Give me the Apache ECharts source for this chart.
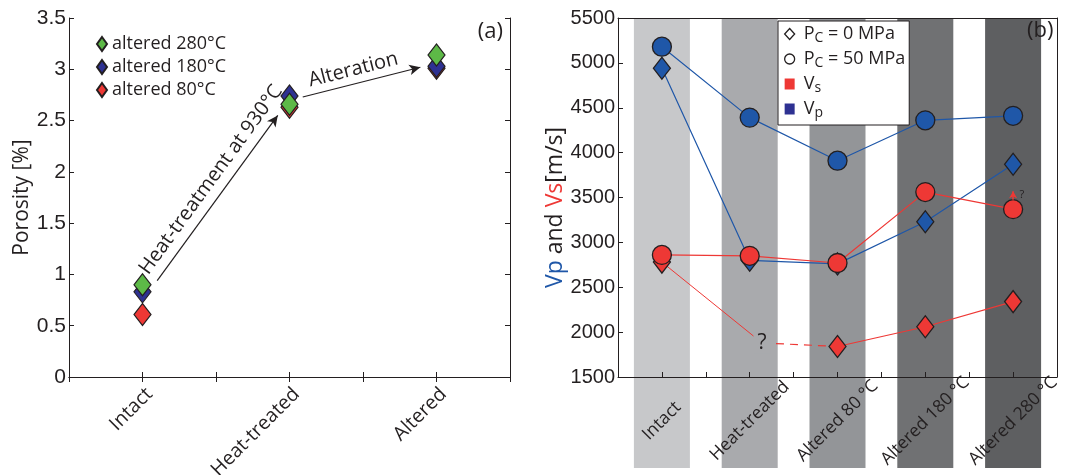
<!DOCTYPE html>
<html>
<head>
<meta charset="utf-8">
<script src="https://cdn.jsdelivr.net/npm/echarts@6/dist/echarts.min.js"></script>
<style>
html, body { margin: 0; padding: 0; background: #fff; }
#main { width: 1083px; height: 475px; }
</style>
</head>
<body>
<div id="main"></div>
<script>
// (a) porosity per stage
var stagesA = ['Intact', 'Heat-treated', 'Altered'];
var poro280 = [0.90, 2.66, 3.14];
var poro180 = [0.83, 2.74, 3.03];
var poro80 = [0.61, 2.63, 3.01];
// annotation arrows, in data units
var heatArrow = [[1.10, 0.94], [1.92, 2.55]];
var alterArrow = [[2.09, 2.73], [2.89, 3.02]];

// (b) velocities per stage
var stagesB = ['Intact', 'Heat-treated', 'Altered 80 °C', 'Altered 180 °C', 'Altered 280 °C'];
var vp50 = [5180, 4390, 3910, 4360, 4410];
var vp0 = [4940, 2800, 2760, 3230, 3870];
var vs50 = [2860, 2850, 2770, 3560, 3370];
var vs0 = [2780, null, 1840, 2060, 2340];
var vs0Guess = [2.14, 1880];           // the "?" for heat-treated Vs at 0 MPa
var vs280Arrow = [[5, 3475], [5, 3570]];
var vs280Mark = [5, 3525];

var bandColors = ['#c7c8ca', '#a9aaad', '#939598', '#707173', '#5e5f61'];
var ink = '#231f20';
var blue = '#1f57a8', red = '#ee3835', green = '#5db947', navy = '#2e3192';
var txtFont = 'Open Sans';
var numFont = 'Liberation Sans';

function xy(arr) {
    return arr.map(function (v, i) { return [i + 1, v == null ? '-' : v]; });
}

function catLabel(cats) {
    return function (v) {
        return Number.isInteger(v) ? (cats[v - 1] || '') : '';
    };
}

// frame axis helper (top / right mirrors)
function mirrorX(grid, max, ticks) {
    return {
        type: 'value', gridIndex: grid, position: 'top', min: 0.5, max: max, interval: 0.5,
        axisLine: { show: true, lineStyle: { color: ink, width: 1 } },
        axisTick: { show: ticks, inside: true, length: 5, lineStyle: { color: ink } },
        axisLabel: { show: false }, splitLine: { show: false }, z: 5
    };
}
function mirrorY(grid, min, max, step, ticks) {
    return {
        type: 'value', gridIndex: grid, position: 'right', min: min, max: max, interval: step,
        axisLine: { show: true, lineStyle: { color: ink, width: 1 } },
        axisTick: { show: ticks, inside: true, length: 5, lineStyle: { color: ink } },
        axisLabel: { show: false }, splitLine: { show: false }, z: 5
    };
}

function velLine(name, data, color, fill, symbol, size) {
    return {
        name: name, type: 'line', xAxisIndex: 2, yAxisIndex: 2,
        data: xy(data), symbol: symbol, symbolSize: size,
        connectNulls: false,
        lineStyle: { color: color, width: 1.2 },
        itemStyle: { color: fill, borderColor: ink, borderWidth: 1.3 },
        z: 3
    };
}

function poroSer(name, data, color) {
    return {
        name: name, type: 'scatter', xAxisIndex: 0, yAxisIndex: 0,
        data: xy(data), symbol: 'diamond', symbolSize: [17, 22],
        itemStyle: { color: color, borderColor: ink, borderWidth: 1.2, opacity: 1 },
        z: 3
    };
}

var arrowLabel = { show: true, color: ink, fontFamily: txtFont, fontSize: 20 };

var series = [
    // grey stage bands behind panel (b)
    {
        type: 'bar', xAxisIndex: 4, yAxisIndex: 4, barWidth: 56, z: -1, silent: true,
        data: stagesB.map(function (s, i) {
            return { value: [i + 1, 1], itemStyle: { color: bandColors[i] } };
        })
    },
    poroSer('altered 80°C', poro80, red),
    poroSer('altered 180°C', poro180, navy),
    Object.assign(poroSer('altered 280°C', poro280, green), {
        markLine: {
            silent: true, symbol: ['none', 'arrow'], symbolSize: [8, 11],
            lineStyle: { color: ink, width: 1.2, type: 'solid' },
            data: [
                [{ coord: heatArrow[0], label: Object.assign({ formatter: 'Heat-treatment at 930°C', position: 'insideMiddleTop',
                                                               distance: 6, padding: [0, 0, 0, 22] }, arrowLabel) },
                 { coord: heatArrow[1] }],
                [{ coord: alterArrow[0], label: Object.assign({ formatter: 'Alteration', position: 'insideMiddleTop',
                                                                distance: 4, padding: [0, 10, 0, 0] }, arrowLabel) },
                 { coord: alterArrow[1] }]
            ]
        }
    }),
    // dashed guess from "?" to altered 80
    {
        type: 'line', xAxisIndex: 2, yAxisIndex: 2, symbol: 'none', silent: true,
        data: [vs0Guess, [3, vs0[2]]],
        lineStyle: { color: red, width: 1.2, type: [8, 6] }, z: 3
    },
    // solid line from intact toward "?"
    {
        type: 'line', xAxisIndex: 2, yAxisIndex: 2, silent: true,
        data: [[1, vs0[0]], { value: vs0Guess, symbol: 'circle', symbolSize: 0.1,
            label: { show: true, position: 'inside', formatter: '?', color: ink, fontFamily: txtFont,
                     fontSize: 21, backgroundColor: bandColors[1], padding: [0, 4] } }],
        symbol: 'none', lineStyle: { color: red, width: 1 }, z: 3
    },
    velLine('vp0', vp0, blue, blue, 'diamond', [17, 22]),
    velLine('vs0', vs0, red, red, 'diamond', [17, 22]),
    velLine('vp50', vp50, blue, blue, 'circle', 19),
    Object.assign(velLine('vs50', vs50, red, red, 'circle', 19), {
        markLine: {
            silent: true, symbol: ['none', 'arrow'], symbolSize: [6, 7],
            lineStyle: { color: red, width: 1.5, type: 'solid' }, label: { show: false },
            data: [[{ coord: vs280Arrow[0] }, { coord: vs280Arrow[1] }]]
        },
        markPoint: {
            silent: true, symbol: 'circle', symbolSize: 1, itemStyle: { color: 'rgba(0,0,0,0)' },
            data: [{ coord: vs280Mark, label: { show: true, formatter: '?', position: 'right', distance: 6,
                     color: ink, fontFamily: txtFont, fontSize: 11 } }]
        }
    }),
    // legend-only entries for panel (b)
    { name: 'P0', type: 'line', xAxisIndex: 2, yAxisIndex: 2, data: [], itemStyle: { color: '#fff' } },
    { name: 'P50', type: 'line', xAxisIndex: 2, yAxisIndex: 2, data: [], itemStyle: { color: '#fff' } },
    { name: 'Vs', type: 'line', xAxisIndex: 2, yAxisIndex: 2, data: [], itemStyle: { color: red } },
    { name: 'Vp', type: 'line', xAxisIndex: 2, yAxisIndex: 2, data: [], itemStyle: { color: navy } }
];

var legendTextB = {
    P0: '{m|P}{s|C}{m| = 0 MPa}',
    P50: '{m|P}{s|C}{m| = 50 MPa}',
    Vs: '{m|V}{s|s}',
    Vp: '{m|V}{s|p}'
};

var plain = function (v) { return String(v); };

var option = {
    animation: false,
    backgroundColor: '#fff',
    grid: [
        { left: 69, top: 18, width: 441, height: 359, outerBoundsMode: 'none', containLabel: false },
        { left: 618, top: 18, width: 439, height: 359, outerBoundsMode: 'none', containLabel: false },
        { left: 618, top: 18, width: 439, height: 450, outerBoundsMode: 'none', containLabel: false }
    ],
    xAxis: [
        {
            type: 'value', gridIndex: 0, min: 0.5, max: 3.5, interval: 0.5,
            axisLine: { show: true, lineStyle: { color: ink, width: 1 } },
            axisTick: { show: true, inside: true, length: 5, lineStyle: { color: ink } },
            axisLabel: { formatter: catLabel(stagesA), rotate: 45, margin: 7, color: ink,
                         fontFamily: txtFont, fontSize: 19.5, verticalAlign: 'top' },
            splitLine: { show: false }, z: 5
        },
        mirrorX(0, 3.5, true),
        {
            type: 'value', gridIndex: 1, min: 0.5, max: 5.5, interval: 0.5,
            axisLine: { show: true, lineStyle: { color: ink, width: 1 } },
            axisTick: { show: true, inside: true, length: 5, lineStyle: { color: ink } },
            axisLabel: { formatter: catLabel(stagesB), rotate: 45, margin: 44, color: ink,
                         fontFamily: txtFont, fontSize: 17.5, align: 'center', verticalAlign: 'middle' },
            splitLine: { show: false }, z: 5
        },
        mirrorX(1, 5.5, false),
        { type: 'value', gridIndex: 2, min: 0.5, max: 5.5, show: false }
    ],
    yAxis: [
        {
            type: 'value', gridIndex: 0, min: 0, max: 3.5, interval: 0.5,
            name: 'Porosity [%]', nameLocation: 'middle', nameRotate: 90, nameGap: 36,
            nameTextStyle: { color: ink, fontFamily: txtFont, fontSize: 21 },
            axisLine: { show: true, lineStyle: { color: ink, width: 1 } },
            axisTick: { show: true, inside: true, length: 5, lineStyle: { color: ink } },
            axisLabel: { color: ink, fontFamily: numFont, fontSize: 21, margin: 3, formatter: plain },
            splitLine: { show: false }, z: 5
        },
        mirrorY(0, 0, 3.5, 0.5, true),
        {
            type: 'value', gridIndex: 1, min: 1500, max: 5500, interval: 500,
            name: '{b|Vp} and {r|Vs}[m/s]', nameLocation: 'middle', nameRotate: 90, nameGap: 49,
            nameTextStyle: {
                color: ink, fontFamily: txtFont, fontSize: 23, padding: [0, 20, 0, 0],
                rich: {
                    b: { color: blue, fontFamily: txtFont, fontSize: 23 },
                    r: { color: red, fontFamily: txtFont, fontSize: 23 }
                }
            },
            axisLine: { show: true, lineStyle: { color: ink, width: 1 } },
            axisTick: { show: true, inside: true, length: 5, lineStyle: { color: ink } },
            axisLabel: { color: ink, fontFamily: numFont, fontSize: 20, margin: 3, formatter: plain },
            splitLine: { show: false }, z: 5
        },
        mirrorY(1, 1500, 5500, 500, false),
        { type: 'value', gridIndex: 2, min: 0, max: 1, show: false }
    ],
    legend: [
        {
            data: ['altered 280°C', 'altered 180°C', 'altered 80°C'],
            orient: 'vertical', left: 91, top: 30, itemWidth: 10, itemHeight: 14, itemGap: 5,
            selectedMode: false,
            textStyle: { color: ink, fontFamily: txtFont, fontSize: 18, padding: [0, 0, 0, 0] }
        },
        {
            data: [
                { name: 'P0', icon: 'diamond', itemStyle: { color: '#fff', borderColor: ink, borderWidth: 1.3 } },
                { name: 'P50', icon: 'circle', itemStyle: { color: '#fff', borderColor: ink, borderWidth: 1.3 } },
                { name: 'Vs', icon: 'rect', itemStyle: { color: red, borderWidth: 0 } },
                { name: 'Vp', icon: 'rect', itemStyle: { color: navy, borderWidth: 0 } }
            ],
            orient: 'vertical', left: 778, top: 21, itemWidth: 10, itemHeight: 11, itemGap: 5,
            padding: [4, 4, 5, 6], selectedMode: false,
            backgroundColor: '#fff', borderColor: ink, borderWidth: 1, z: 8,
            formatter: function (n) { return legendTextB[n]; },
            textStyle: {
                color: ink, fontFamily: txtFont, fontSize: 18, padding: [0, 0, 0, 4],
                rich: {
                    m: { fontFamily: txtFont, fontSize: 18, color: ink, lineHeight: 22 },
                    s: { fontFamily: txtFont, fontSize: 14, color: ink, padding: [8, 0, 0, 0] }
                }
            }
        }
    ],
    graphic: [
        { type: 'text', right: 1083 - 503, top: 21, z: 10,
          style: { text: '(a)', font: '22px "Open Sans"', fill: ink } },
        { type: 'text', left: 1027, top: 20, z: 10,
          style: { text: '(b)', font: '22px "Open Sans"', fill: ink } }
    ],
    series: series
};

var chart = echarts.init(document.getElementById('main'));
chart.setOption(option);
</script>
</body>
</html>
